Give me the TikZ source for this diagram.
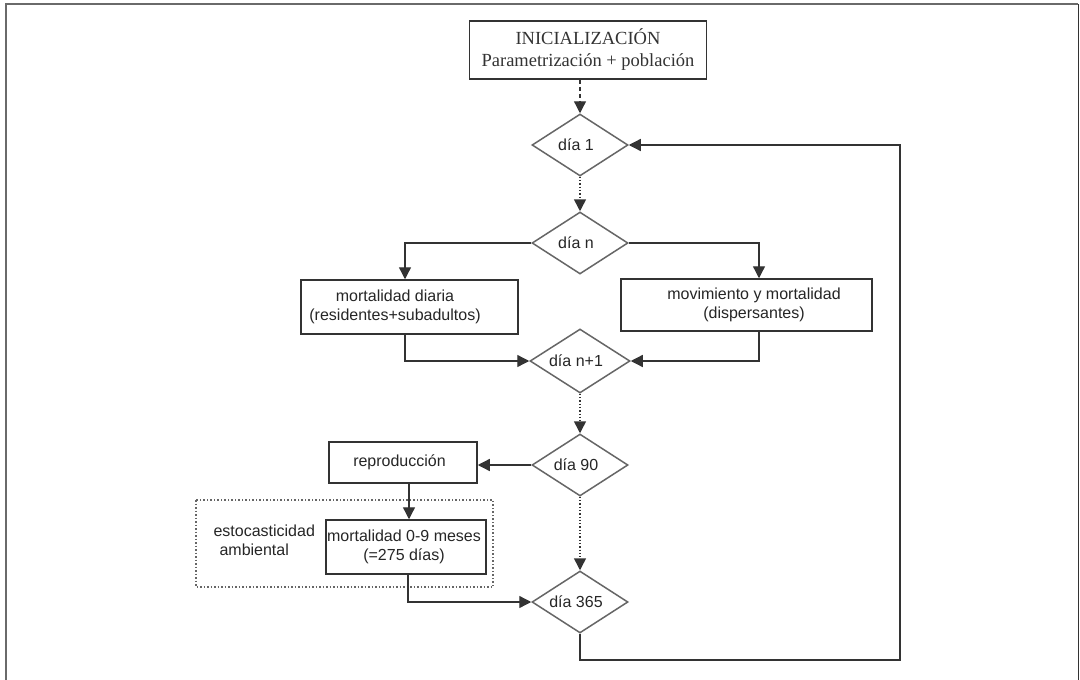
\documentclass[tikz,border=0pt]{standalone}
\usepackage{fontspec}
\setmainfont{Liberation Serif}
\newfontfamily\arialf{Liberation Sans}
\usetikzlibrary{shapes.geometric,arrows.meta}
\definecolor{linec}{HTML}{333333}
\definecolor{diac}{HTML}{666666}
\definecolor{framec}{HTML}{6A6A6A}
\tikzset{
  txt/.style={font=\arialf\fontsize{16}{19}\selectfont, text=black!85, align=center},
  dia/.style={diamond, draw=diac, line width=1.5pt, minimum width=96pt, minimum height=62pt, inner sep=0pt},
  diatxt/.style={txt, xshift=-4pt},
  rbox/.style={rectangle, draw=linec, line width=1.5pt, inner sep=0pt},
  initbox/.style={rectangle, draw=linec, line width=1.5pt, inner sep=0pt, align=center,
     font=\fontsize{18.5}{22}\selectfont, text=black!80, minimum width=237pt, minimum height=58pt},
  arr/.style={draw=linec, line width=1.3pt, -{Triangle[length=12pt,width=12pt]}},
  dotline/.style={dotted, line width=1.5pt},
  dashline/.style={dash pattern=on 4pt off 3pt, line width=1.3pt}
}
\begin{document}
\begin{tikzpicture}[x=1pt,y=-1pt]
\useasboundingbox (0,0) rectangle (1080,680);
\fill[white] (0,0) rectangle (1080,680);
% outer frame
\draw[framec, line width=2.2pt] (6,680) -- (6,4) -- (1078,4);
\draw[black!80, line width=1pt] (1078,4) -- (1078,680);

\node[initbox] (init) at (588,50) {INICIALIZACIÓN\\Parametrización + población};

\node[dia] (d1) at (580,145) {};
\node[diatxt] (d1t) at (d1.center) {día 1};
\node[dia] (dn) at (580,243) {};
\node[diatxt] (dnt) at (dn.center) {día n};
\node[dia, minimum width=100pt, minimum height=64pt] (dn1) at (580,361) {};
\node[diatxt] (dn1t) at (dn1.center) {día n+1};
\node[dia] (d90) at (580,465) {};
\node[diatxt] (d90t) at (d90.center) {día 90};
\node[dia] (d365) at (580,602) {};
\node[diatxt] (d365t) at (d365.center) {día 365};

\node[rbox, minimum width=217pt, minimum height=54pt] (md) at (409.5,307) {};
\node[txt] (mdt) at ([xshift=-14.5pt]md.center) {mortalidad diaria\\(residentes+subadultos)};
\node[rbox, minimum width=251pt, minimum height=52pt] (mm) at (746.5,305) {};
\node[txt] (mmt) at ([xshift=7.5pt]mm.center) {movimiento y mortalidad\\(dispersantes)};
\node[rbox, minimum width=148pt, minimum height=41pt] (rep) at (403,462.5) {};
\node[txt] (rept) at ([xshift=-3.5pt]rep.center) {reproducción};
\node[rbox, minimum width=160pt, minimum height=54pt] (m09) at (406,547) {};
\node[txt] (m09t) at ([xshift=-2pt]m09.center) {mortalidad 0-9 meses\\(=275 días)};

\draw[diac, dotline] (196,500) rectangle (493,587);
\node[txt, align=left, anchor=west] (sto) at (210,540) {estocasticidad\\\hspace*{6pt}ambiental};
\coordinate (loop) at (900,660);

\draw[arr, dashline] (init.south -| d1.north) -- (d1.north);
\draw[arr, dotline] (d1.south) -- (dn.north);
\draw[arr] (dn.west) -| ([xshift=-4.5pt]md.north);
\draw[arr] (dn.east) -| ([xshift=12.5pt]mm.north);
\draw[arr] ([xshift=-4.5pt]md.south) |- (dn1.west);
\draw[arr] ([xshift=12.5pt]mm.south) |- (dn1.east);
\draw[arr, dotline] (dn1.south) -- (d90.north);
\draw[arr] (d90.west) -- (d90.west -| rep.east);
\draw[arr] ([xshift=6pt]rep.south) -- ([xshift=6pt]rep.south |- m09.north);
\draw[arr] ([xshift=2pt]m09.south) |- (d365.west);
\draw[arr, dotline] (d90.south) -- (d365.north);
\draw[arr] (d365.south) |- (loop) |- (d1.east);
\end{tikzpicture}
\end{document}
